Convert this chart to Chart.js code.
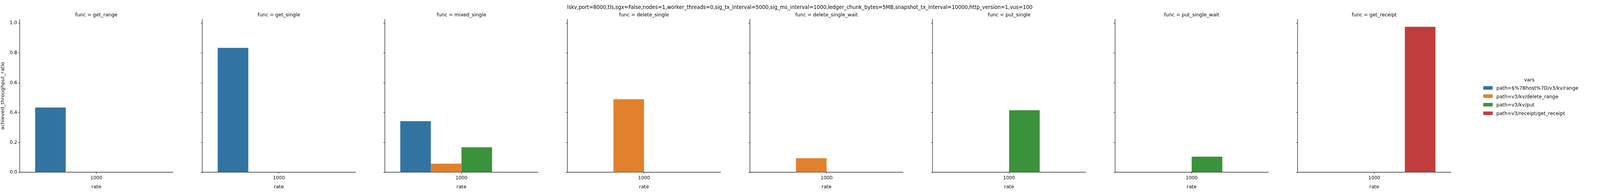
<!DOCTYPE html>
<html>
<head>
<meta charset="utf-8">
<script src="https://cdn.jsdelivr.net/npm/chart.js@4/dist/chart.umd.min.js"></script>
<style>
  html, body { margin: 0; padding: 0; background: #fff; overflow: hidden; }
  #fig { width: 4277px; height: 495px; position: absolute; left: 0; top: 0; transform-origin: 0 0;
         font-family: "DejaVu Sans", sans-serif; color: #000; }
  canvas { position: absolute; top: 0; }
  .txt { position: absolute; font-size: 13px; white-space: nowrap; transform: translate(-50%, -50%); }
  .sw { position: absolute; width: 25px; height: 9px; }
  .lg { position: absolute; font-size: 13px; white-space: nowrap; transform: translateY(-50%); }
</style>
</head>
<body>
<div id="fig"></div>
<script>
var suptitle = "lskv,port=8000,tls,sgx=False,nodes=1,worker_threads=0,sig_tx_interval=5000,sig_ms_interval=1000,ledger_chunk_bytes=5MB,snapshot_tx_interval=10000,http_version=1,vus=100";
var funcs = ["get_range", "get_single", "mixed_single", "delete_single", "delete_single_wait", "put_single", "put_single_wait", "get_receipt"];
var rates = ["1000"];
var vars = ["path=$%7Bhost%7D/v3/kv/range", "path=v3/kv/delete_range", "path=v3/kv/put", "path=v3/receipt/get_receipt"];
var colors = ["#3274a1", "#e1812c", "#3a923a", "#c03d3e"];
var yTicks = [0, 0.2, 0.4, 0.6, 0.8, 1.0];
// one value per func for each path (null = no bar)
var rangeVals   = [0.434, 0.834, 0.343, null, null, null, null, null];
var deleteVals  = [null, null, 0.058, 0.490, 0.095, null, null, null];
var putVals     = [null, null, 0.168, null, null, 0.416, 0.105, null];
var receiptVals = [null, null, null, null, null, null, null, 0.975];
var series = [rangeVals, deleteVals, putVals, receiptVals];

var pitch = 488, axisLeft = 53, plotW = 409, plotTop = 50, plotBottom = 442;
var fig = document.getElementById("fig");

// keep the 4277x495 figure filling whatever viewport we actually get
function fit() {
  var sx = window.innerWidth / 4277, sy = window.innerHeight / 495;
  fig.style.transform = "scale(" + sx + "," + sy + ")";
}
fit();
window.addEventListener("resize", fit);

function addText(cls, text, x, y, extra) {
  var d = document.createElement("div");
  d.className = cls; d.textContent = text;
  d.style.left = x + "px"; d.style.top = y + "px";
  if (extra) Object.assign(d.style, extra);
  fig.appendChild(d);
  return d;
}

addText("txt", suptitle, 2138, 18, {fontSize: "13.5px"});

funcs.forEach(function (f, i) {
  var c = document.createElement("canvas");
  c.width = pitch; c.height = 495;
  c.style.left = (i * pitch) + "px";
  fig.appendChild(c);
  addText("txt", "func = " + f, i * pitch + axisLeft + plotW / 2, 37);

  new Chart(c.getContext("2d"), {
    type: "bar",
    data: {
      labels: rates,
      datasets: vars.map(function (v, k) {
        return { label: v, data: [series[k][i]], backgroundColor: colors[k],
                 categoryPercentage: 0.8, barPercentage: 1.0 };
      })
    },
    options: {
      responsive: false, animation: false, devicePixelRatio: 1,
      layout: { padding: { top: plotTop, right: pitch - axisLeft - plotW, bottom: 8, left: 0 } },
      plugins: { legend: { display: false }, tooltip: { enabled: false } },
      scales: {
        x: {
          grid: { display: true, drawOnChartArea: false, offset: false, tickLength: 4, color: "#000" },
          border: { color: "#000", width: 1.2 },
          ticks: { color: "#000", font: { family: "DejaVu Sans", size: 12.5 }, padding: 3 },
          title: { display: true, text: "rate", color: "#000", font: { family: "DejaVu Sans", size: 13 }, padding: { top: 2, bottom: 0 } },
          afterFit: function (s) { s.height = 495 - plotBottom - 8; }
        },
        y: {
          min: 0, max: 1.024,
          afterBuildTicks: function (s) { s.ticks = yTicks.map(function (v) { return { value: v }; }); },
          grid: { display: true, drawOnChartArea: false, tickLength: 4, color: "#000" },
          border: { color: "#000", width: 1.2 },
          ticks: { display: i === 0, color: "#000", font: { family: "DejaVu Sans", size: 12.5 }, padding: 3,
                   callback: function (v) { return Number(v).toFixed(1); } },
          title: { display: i === 0, text: "achieved_throughput_ratio", color: "#000",
                   font: { family: "DejaVu Sans", size: 13 }, padding: { top: 0, bottom: 4 } },
          afterFit: function (s) { s.width = axisLeft; }
        }
      }
    }
  });
});

// legend
addText("txt", "vars", 4088, 204);
vars.forEach(function (v, k) {
  var y = 225 + k * 21.7;
  var s = document.createElement("div");
  s.className = "sw"; s.style.left = "3965px"; s.style.top = (y - 4.5) + "px";
  s.style.background = colors[k];
  fig.appendChild(s);
  addText("lg", v, 4000, y);
});
</script>
</body>
</html>
